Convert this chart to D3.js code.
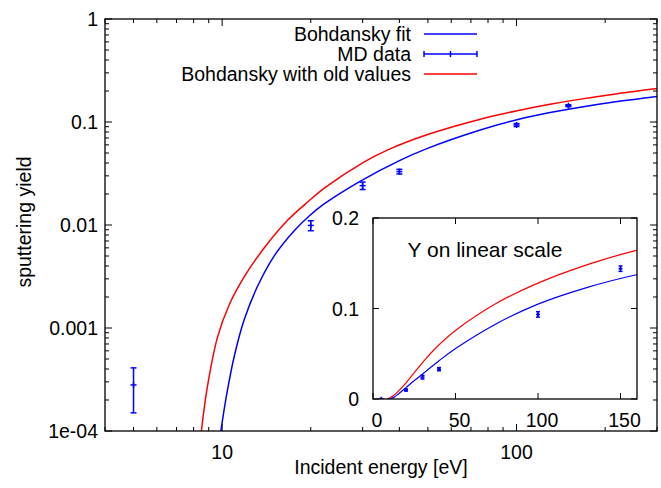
<!DOCTYPE html>
<html>
<head>
<meta charset="utf-8">
<script src="https://cdn.jsdelivr.net/npm/d3@7"></script>
<style>
  body { margin: 0; background: #fff; }
  text { font-family: "Liberation Sans", Arial, Helvetica, sans-serif; font-size: 19.5px; fill: #000; }
</style>
</head>
<body>
<div id="plot"></div>
<script>
// MD data points (energy in eV, yield, error)
const mdEnergy = [5, 20, 30, 40, 100, 150];
const mdYield = [2.8e-4, 0.0099, 0.0241, 0.033, 0.0935, 0.144];
const mdError = [1.3e-4, 0.0011, 0.002, 0.0017, 0.003, 0.003];

// Bohdansky fit curve
const fitEnergy = [9.9, 10.34, 10.98, 11.88, 13.19, 15.03, 17.57, 19.8, 22.2, 29.5, 40, 49.6, 74.8, 99.6, 130, 159, 220, 300];
const fitYield = [1.0e-4, 2.19e-4, 5.23e-4, 1.2e-3, 2.54e-3, 5.02e-3, 8.8e-3, 0.0123, 0.016, 0.0267, 0.0422, 0.0552, 0.0832, 0.1046, 0.1234, 0.137, 0.1581, 0.1773];

// Bohdansky with old values
const oldEnergy = [8.5, 8.91, 9.64, 10.56, 11.88, 13.89, 16.68, 19.65, 22.23, 30.4, 36.7, 49.6, 74.8, 99.6, 130, 159, 220, 300];
const oldYield = [1.0e-4, 2.69e-4, 8.11e-4, 1.67e-3, 3.13e-3, 5.98e-3, 0.0111, 0.017, 0.0228, 0.041, 0.0539, 0.0751, 0.1057, 0.1278, 0.1485, 0.164, 0.1885, 0.2114];

const legendLabels = ["Bohdansky fit", "MD data", "Bohdansky with old values"];
const mainXTicks = [10, 100];
const mainYTicks = [1e-4, 1e-3, 1e-2, 0.1, 1];
const mainYTickLabels = ["1e-04", "0.001", "0.01", "0.1", "1"];
const insetXTicks = [0, 50, 100, 150];
const insetYTicks = [0, 0.1, 0.2];

const BLUE = "#0000ff", RED = "#ff0000";

const svg = d3.select("#plot").append("svg")
    .attr("width", 661)
    .attr("height", 488);

const main = { left: 105, right: 657, top: 19, bottom: 431 };

const x = d3.scaleLog().domain([4, 300]).range([main.left, main.right]);
const y = d3.scaleLog().domain([1e-4, 1]).range([main.bottom, main.top]);

const fitData = fitEnergy.map((e, i) => ({ e: e, v: fitYield[i] }));
const oldData = oldEnergy.map((e, i) => ({ e: e, v: oldYield[i] }));
const mdData = mdEnergy.map((e, i) => ({ e: e, v: mdYield[i], err: mdError[i] }));

svg.append("clipPath").attr("id", "clipMain")
  .append("rect")
    .attr("x", main.left).attr("y", main.top)
    .attr("width", main.right - main.left).attr("height", main.bottom - main.top);

// minor ticks
const xMinor = [];
[1, 10, 100].forEach(d => { for (let k = 2; k <= 9; k++) { const v = d * k; if (v >= 4 && v <= 300) xMinor.push(v); } });
const yMinor = [];
[1e-4, 1e-3, 1e-2, 0.1].forEach(d => { for (let k = 2; k <= 9; k++) yMinor.push(d * k); });

const tickG = svg.append("g").attr("stroke", "#000").attr("stroke-width", 1);
// x ticks bottom and top (inward)
xMinor.forEach(v => {
    tickG.append("line").attr("x1", x(v)).attr("x2", x(v)).attr("y1", main.bottom).attr("y2", main.bottom - 4);
    tickG.append("line").attr("x1", x(v)).attr("x2", x(v)).attr("y1", main.top).attr("y2", main.top + 4);
});
mainXTicks.forEach(v => {
    tickG.append("line").attr("x1", x(v)).attr("x2", x(v)).attr("y1", main.bottom).attr("y2", main.bottom - 7);
    tickG.append("line").attr("x1", x(v)).attr("x2", x(v)).attr("y1", main.top).attr("y2", main.top + 7);
});
yMinor.forEach(v => {
    tickG.append("line").attr("y1", y(v)).attr("y2", y(v)).attr("x1", main.left).attr("x2", main.left + 4);
    tickG.append("line").attr("y1", y(v)).attr("y2", y(v)).attr("x1", main.right).attr("x2", main.right - 4);
});
mainYTicks.forEach(v => {
    tickG.append("line").attr("y1", y(v)).attr("y2", y(v)).attr("x1", main.left).attr("x2", main.left + 7);
    tickG.append("line").attr("y1", y(v)).attr("y2", y(v)).attr("x1", main.right).attr("x2", main.right - 7);
});

// tick labels
svg.selectAll("text.xlab").data(mainXTicks).enter().append("text")
    .attr("x", d => x(d)).attr("y", main.bottom + 28)
    .attr("text-anchor", "middle").text(d => d);
svg.selectAll("text.ylab").data(mainYTicks).enter().append("text")
    .attr("x", main.left - 7).attr("y", d => y(d) + 7)
    .attr("text-anchor", "end").text((d, i) => mainYTickLabels[i]);

// axis titles
svg.append("text").attr("x", 381).attr("y", 474).attr("text-anchor", "middle").text("Incident energy [eV]");
svg.append("text").attr("transform", "translate(31,222) rotate(-90)").attr("text-anchor", "middle").text("sputtering yield");

// curves in main plot
const lineMain = d3.line().x(d => x(d.e)).y(d => y(d.v)).curve(d3.curveCatmullRom.alpha(0.5));
const curves = svg.append("g").attr("clip-path", "url(#clipMain)");
curves.append("path").datum(oldData).attr("d", lineMain)
    .attr("fill", "none").attr("stroke", RED).attr("stroke-width", 1.5);
curves.append("path").datum(fitData).attr("d", lineMain)
    .attr("fill", "none").attr("stroke", BLUE).attr("stroke-width", 1.5);

// error bars with a "+" point
function drawErrorBars(g, data, sx, sy, cap, pt) {
    const eb = g.selectAll("g.eb").data(data).enter().append("g")
        .attr("stroke", BLUE).attr("stroke-width", 1.5);
    eb.append("line")
        .attr("x1", d => sx(d.e)).attr("x2", d => sx(d.e))
        .attr("y1", d => sy(d.v - d.err)).attr("y2", d => sy(d.v + d.err));
    eb.append("line")
        .attr("x1", d => sx(d.e) - cap).attr("x2", d => sx(d.e) + cap)
        .attr("y1", d => sy(d.v - d.err)).attr("y2", d => sy(d.v - d.err));
    eb.append("line")
        .attr("x1", d => sx(d.e) - cap).attr("x2", d => sx(d.e) + cap)
        .attr("y1", d => sy(d.v + d.err)).attr("y2", d => sy(d.v + d.err));
    eb.append("line")
        .attr("x1", d => sx(d.e) - pt).attr("x2", d => sx(d.e) + pt)
        .attr("y1", d => sy(d.v)).attr("y2", d => sy(d.v));
    eb.append("line")
        .attr("x1", d => sx(d.e)).attr("x2", d => sx(d.e))
        .attr("y1", d => sy(d.v) - pt).attr("y2", d => sy(d.v) + pt);
}
drawErrorBars(svg.append("g").attr("clip-path", "url(#clipMain)"), mdData, x, y, 3, 3);

// frame
svg.append("rect")
    .attr("x", main.left).attr("y", main.top)
    .attr("width", main.right - main.left).attr("height", main.bottom - main.top)
    .attr("fill", "none").attr("stroke", "#000").attr("stroke-width", 1.3);

// legend
const legend = svg.append("g");
const legendY = [34, 54, 74];
legend.selectAll("text").data(legendLabels).enter().append("text")
    .attr("x", 411).attr("y", (d, i) => legendY[i] + 7)
    .attr("text-anchor", "end").text(d => d);
legend.append("line").attr("x1", 424).attr("x2", 477).attr("y1", legendY[0]).attr("y2", legendY[0])
    .attr("stroke", BLUE).attr("stroke-width", 1.5);
legend.append("line").attr("x1", 424).attr("x2", 477).attr("y1", legendY[2]).attr("y2", legendY[2])
    .attr("stroke", RED).attr("stroke-width", 1.5);
const lmd = legend.append("g").attr("stroke", BLUE).attr("stroke-width", 1.5);
lmd.append("line").attr("x1", 424).attr("x2", 477).attr("y1", legendY[1]).attr("y2", legendY[1]);
[424, 450.5, 477].forEach(px => {
    lmd.append("line").attr("x1", px).attr("x2", px).attr("y1", legendY[1] - 3).attr("y2", legendY[1] + 3);
});

// ---- inset with linear y ----
const ins = { left: 373, right: 637, top: 218, bottom: 399 };
const xi = d3.scaleLinear().domain([0, 160]).range([ins.left, ins.right]);
const yi = d3.scaleLinear().domain([0, 0.2]).range([ins.bottom, ins.top]);

svg.append("rect")
    .attr("x", ins.left).attr("y", ins.top)
    .attr("width", ins.right - ins.left).attr("height", ins.bottom - ins.top)
    .attr("fill", "#fff");

svg.append("clipPath").attr("id", "clipInset")
  .append("rect")
    .attr("x", ins.left).attr("y", ins.top)
    .attr("width", ins.right - ins.left).attr("height", ins.bottom - ins.top);

const insTicks = svg.append("g").attr("stroke", "#000").attr("stroke-width", 1);
insetXTicks.forEach(v => {
    insTicks.append("line").attr("x1", xi(v)).attr("x2", xi(v)).attr("y1", ins.bottom).attr("y2", ins.bottom - 6);
    insTicks.append("line").attr("x1", xi(v)).attr("x2", xi(v)).attr("y1", ins.top).attr("y2", ins.top + 6);
});
insetYTicks.forEach(v => {
    insTicks.append("line").attr("y1", yi(v)).attr("y2", yi(v)).attr("x1", ins.left).attr("x2", ins.left + 6);
    insTicks.append("line").attr("y1", yi(v)).attr("y2", yi(v)).attr("x1", ins.right).attr("x2", ins.right - 6);
});

svg.selectAll("text.ixl").data(insetXTicks).enter().append("text")
    .attr("x", d => xi(d) + 4).attr("y", ins.bottom + 28)
    .attr("text-anchor", "middle").text(d => d);
svg.selectAll("text.iyl").data(insetYTicks).enter().append("text")
    .attr("x", ins.left - 14).attr("y", d => yi(d) + 7)
    .attr("text-anchor", "end").text(d => d);

svg.append("text").attr("x", 407.5).attr("y", 257)
    .style("font-size", "21px").text("Y on linear scale");

const lineInset = d3.line().x(d => xi(d.e)).y(d => yi(d.v)).curve(d3.curveCatmullRom.alpha(0.5));
const insCurves = svg.append("g").attr("clip-path", "url(#clipInset)");
insCurves.append("path").datum(oldData).attr("d", lineInset)
    .attr("fill", "none").attr("stroke", RED).attr("stroke-width", 1.2);
insCurves.append("path").datum(fitData).attr("d", lineInset)
    .attr("fill", "none").attr("stroke", BLUE).attr("stroke-width", 1.2);
drawErrorBars(svg.append("g").attr("clip-path", "url(#clipInset)"), mdData, xi, yi, 2, 2);

svg.append("rect")
    .attr("x", ins.left).attr("y", ins.top)
    .attr("width", ins.right - ins.left).attr("height", ins.bottom - ins.top)
    .attr("fill", "none").attr("stroke", "#000").attr("stroke-width", 1.3);
</script>
</body>
</html>
